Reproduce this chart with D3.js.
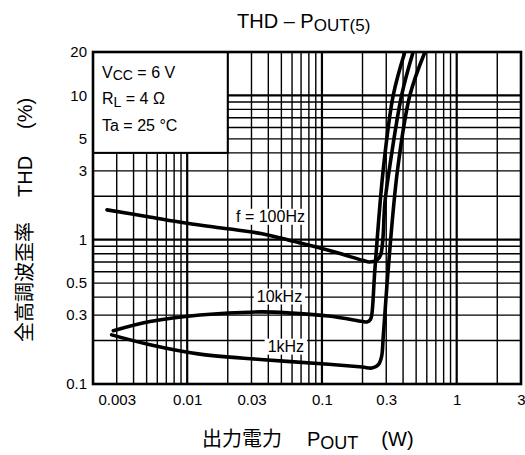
<!DOCTYPE html>
<html>
<head>
<meta charset="utf-8">
<script src="https://cdn.jsdelivr.net/npm/d3@7"></script>
<style>
  body { margin: 0; background: #fff; }
  svg { display: block; font-family: "Liberation Sans", Arial, sans-serif; }
  .cjk { font-family: "Noto Sans CJK JP", sans-serif; }
</style>
</head>
<body>
<svg id="chart"></svg>
<script>
// Tick labels
const xTickValues = [0.003, 0.01, 0.03, 0.1, 0.3, 1, 3];
const yTickValues = [0.1, 0.3, 0.5, 1, 3, 5, 10, 20];

// Curves: [Pout (W), THD (%)]
const curve100Hz = [
  [0.00254, 1.61], [0.005, 1.45], [0.01, 1.30], [0.02, 1.19], [0.036, 1.10],
  [0.063, 0.97], [0.11, 0.85], [0.15, 0.78], [0.2, 0.72], [0.225, 0.70],
  [0.255, 0.72], [0.272, 0.78], [0.283, 1.0], [0.293, 1.8], [0.316, 3.06],
  [0.39, 10], [0.475, 20]
];
const curve10kHz = [
  [0.00283, 0.234], [0.0053, 0.271], [0.0124, 0.301], [0.035, 0.316],
  [0.06, 0.31], [0.112, 0.296], [0.198, 0.272], [0.215, 0.269],
  [0.228, 0.278], [0.234, 0.30], [0.247, 0.618], [0.285, 3.06],
  [0.338, 10], [0.4125, 20]
];
const curve1kHz = [
  [0.00275, 0.219], [0.0053, 0.187], [0.0124, 0.161], [0.035, 0.148],
  [0.112, 0.137], [0.2, 0.131], [0.235, 0.129], [0.262, 0.136],
  [0.277, 0.155], [0.285, 0.213], [0.31, 0.618], [0.364, 3.06],
  [0.449, 10], [0.581, 20]
];
const seriesLabels = ['f = 100Hz', '10kHz', '1kHz'];

class ThdChart {

  constructor(_config) {
    this.config = {
      parentElement: _config.parentElement,
      containerWidth: 525,
      containerHeight: 455,
      margin: {top: 52, right: 4, bottom: 71, left: 93},
      // label anchors (data coords) for the three curve captions
      labelAnchors: [[0.0415, 1.332], [0.0484, 0.373], [0.054, 0.1676]],
      legendBox: {x0: 0.002, x1: 0.02, y0: 4, y1: 20}
    };
    this.initVis();
  }

  initVis() {
    let vis = this;
    const c = vis.config;

    vis.width = c.containerWidth - c.margin.left - c.margin.right;
    vis.height = c.containerHeight - c.margin.top - c.margin.bottom;

    vis.xScale = d3.scaleLog().domain([0.002, 3]).range([0, vis.width]);
    vis.yScale = d3.scaleLog().domain([0.1, 20]).range([vis.height, 0]);

    vis.svg = d3.select(c.parentElement)
        .attr('width', c.containerWidth)
        .attr('height', c.containerHeight);

    vis.chart = vis.svg.append('g')
        .attr('transform', `translate(${c.margin.left},${c.margin.top})`);

    vis.svg.append('defs').append('clipPath')
        .attr('id', 'plot-clip')
      .append('rect')
        .attr('width', vis.width)
        .attr('height', vis.height);

    vis.renderVis();
  }

  renderVis() {
    let vis = this;
    const c = vis.config;
    const isDecade = d => Math.abs(Math.log10(d) - Math.round(Math.log10(d))) < 1e-6;

    // Grid: every 1..9 step of each decade
    vis.chart.append('g').selectAll('line')
        .data(vis.xScale.ticks())
      .join('line')
        .attr('x1', d => vis.xScale(d))
        .attr('x2', d => vis.xScale(d))
        .attr('y1', 0)
        .attr('y2', vis.height)
        .attr('stroke', '#000')
        .attr('stroke-width', d => isDecade(d) ? 2.2 : 1.4);

    vis.chart.append('g').selectAll('line')
        .data(vis.yScale.ticks())
      .join('line')
        .attr('x1', 0)
        .attr('x2', vis.width)
        .attr('y1', d => vis.yScale(d))
        .attr('y2', d => vis.yScale(d))
        .attr('stroke', '#000')
        .attr('stroke-width', d => isDecade(d) ? 2.2 : 1.4);

    // Condition box (covers the grid)
    const lb = c.legendBox;
    vis.chart.append('rect')
        .attr('x', vis.xScale(lb.x0))
        .attr('y', vis.yScale(lb.y1))
        .attr('width', vis.xScale(lb.x1) - vis.xScale(lb.x0))
        .attr('height', vis.yScale(lb.y0) - vis.yScale(lb.y1))
        .attr('fill', '#fff')
        .attr('stroke', '#000')
        .attr('stroke-width', 2);

    const cond = vis.chart.append('g')
        .attr('font-size', 16)
        .attr('fill', '#000');
    const t1 = cond.append('text').attr('x', 9).attr('y', 26);
    t1.append('tspan').text('V');
    t1.append('tspan').attr('font-size', 14).attr('dy', 1.5).text('CC');
    t1.append('tspan').attr('dy', -1.5).text(' = 6 V');
    const t2 = cond.append('text').attr('x', 9).attr('y', 52);
    t2.append('tspan').text('R');
    t2.append('tspan').attr('font-size', 14).attr('dy', 2.5).text('L');
    t2.append('tspan').attr('dy', -2.5).text(' = 4 Ω');
    cond.append('text').attr('x', 9).attr('y', 79).text('Ta = 25 °C');

    // Axes (labels only)
    const xAxis = d3.axisBottom(vis.xScale)
        .tickValues(xTickValues)
        .tickSize(0)
        .tickPadding(10)
        .tickFormat(d => String(d));
    const yAxis = d3.axisLeft(vis.yScale)
        .tickValues(yTickValues)
        .tickSize(0)
        .tickPadding(6)
        .tickFormat(d => String(d));

    vis.chart.append('g')
        .attr('transform', `translate(0,${vis.height})`)
        .call(xAxis)
        .call(g => g.select('.domain').remove())
        .selectAll('text')
        .attr('font-size', 15)
        .attr('font-family', '"Liberation Sans", Arial, sans-serif')
        .attr('fill', '#000');

    vis.chart.append('g')
        .call(yAxis)
        .call(g => g.select('.domain').remove())
        .selectAll('text')
        .attr('font-size', 15)
        .attr('font-family', '"Liberation Sans", Arial, sans-serif')
        .attr('fill', '#000');

    // Curve captions with white backing
    const caps = vis.chart.append('g');
    seriesLabels.forEach((label, i) => {
      const [ax, ay] = c.labelAnchors[i];
      const g = caps.append('g');
      const bg = g.append('rect').attr('fill', '#fff');
      const txt = g.append('text')
          .attr('x', vis.xScale(ax))
          .attr('y', vis.yScale(ay))
          .attr('text-anchor', 'middle')
          .attr('font-size', 16)
          .attr('fill', '#000')
          .text(label);
      const bb = txt.node().getBBox();
      bg.attr('x', bb.x - 3)
        .attr('y', bb.y + 1)
        .attr('width', bb.width + 6)
        .attr('height', bb.height - 1);
    });

    // Plot frame
    vis.chart.append('rect')
        .attr('width', vis.width)
        .attr('height', vis.height)
        .attr('fill', 'none')
        .attr('stroke', '#000')
        .attr('stroke-width', 2.6);

    // Curves
    const line = d3.line()
        .x(d => vis.xScale(d[0]))
        .y(d => vis.yScale(d[1]))
        .curve(d3.curveCatmullRom.alpha(0.5));

    vis.chart.append('g')
        .attr('clip-path', 'url(#plot-clip)')
      .selectAll('path')
        .data([curve100Hz, curve10kHz, curve1kHz])
      .join('path')
        .attr('d', line)
        .attr('fill', 'none')
        .attr('stroke', '#000')
        .attr('stroke-width', 3.6)
        .attr('stroke-linecap', 'round')
        .attr('stroke-linejoin', 'round');

    // Title
    const title = vis.svg.append('text')
        .attr('x', 237)
        .attr('y', 28)
        .attr('font-size', 20)
        .attr('fill', '#000');
    title.append('tspan').text('THD – P');
    title.append('tspan').attr('font-size', 17).attr('dy', 3).text('OUT(5)');

    // Y axis title
    const yTitle = vis.svg.append('text')
        .attr('transform', 'translate(32,342) rotate(-90)')
        .attr('font-size', 20)
        .attr('fill', '#000');
    yTitle.append('tspan').attr('class', 'cjk').text('全高調波歪率');
    yTitle.append('tspan').attr('dx', 25).text('THD');
    yTitle.append('tspan').attr('dx', 27).text('(%)');

    // X axis title
    const xTitle = vis.svg.append('text')
        .attr('x', 202)
        .attr('y', 446)
        .attr('font-size', 20)
        .attr('fill', '#000');
    xTitle.append('tspan').attr('class', 'cjk').text('出力電力');
    xTitle.append('tspan').attr('dx', 25).text('P');
    xTitle.append('tspan').attr('font-size', 18).attr('dy', 3).text('OUT');
    xTitle.append('tspan').attr('dx', 23).attr('dy', -3).text('(W)');
  }
}

new ThdChart({parentElement: '#chart'});
</script>
</body>
</html>
